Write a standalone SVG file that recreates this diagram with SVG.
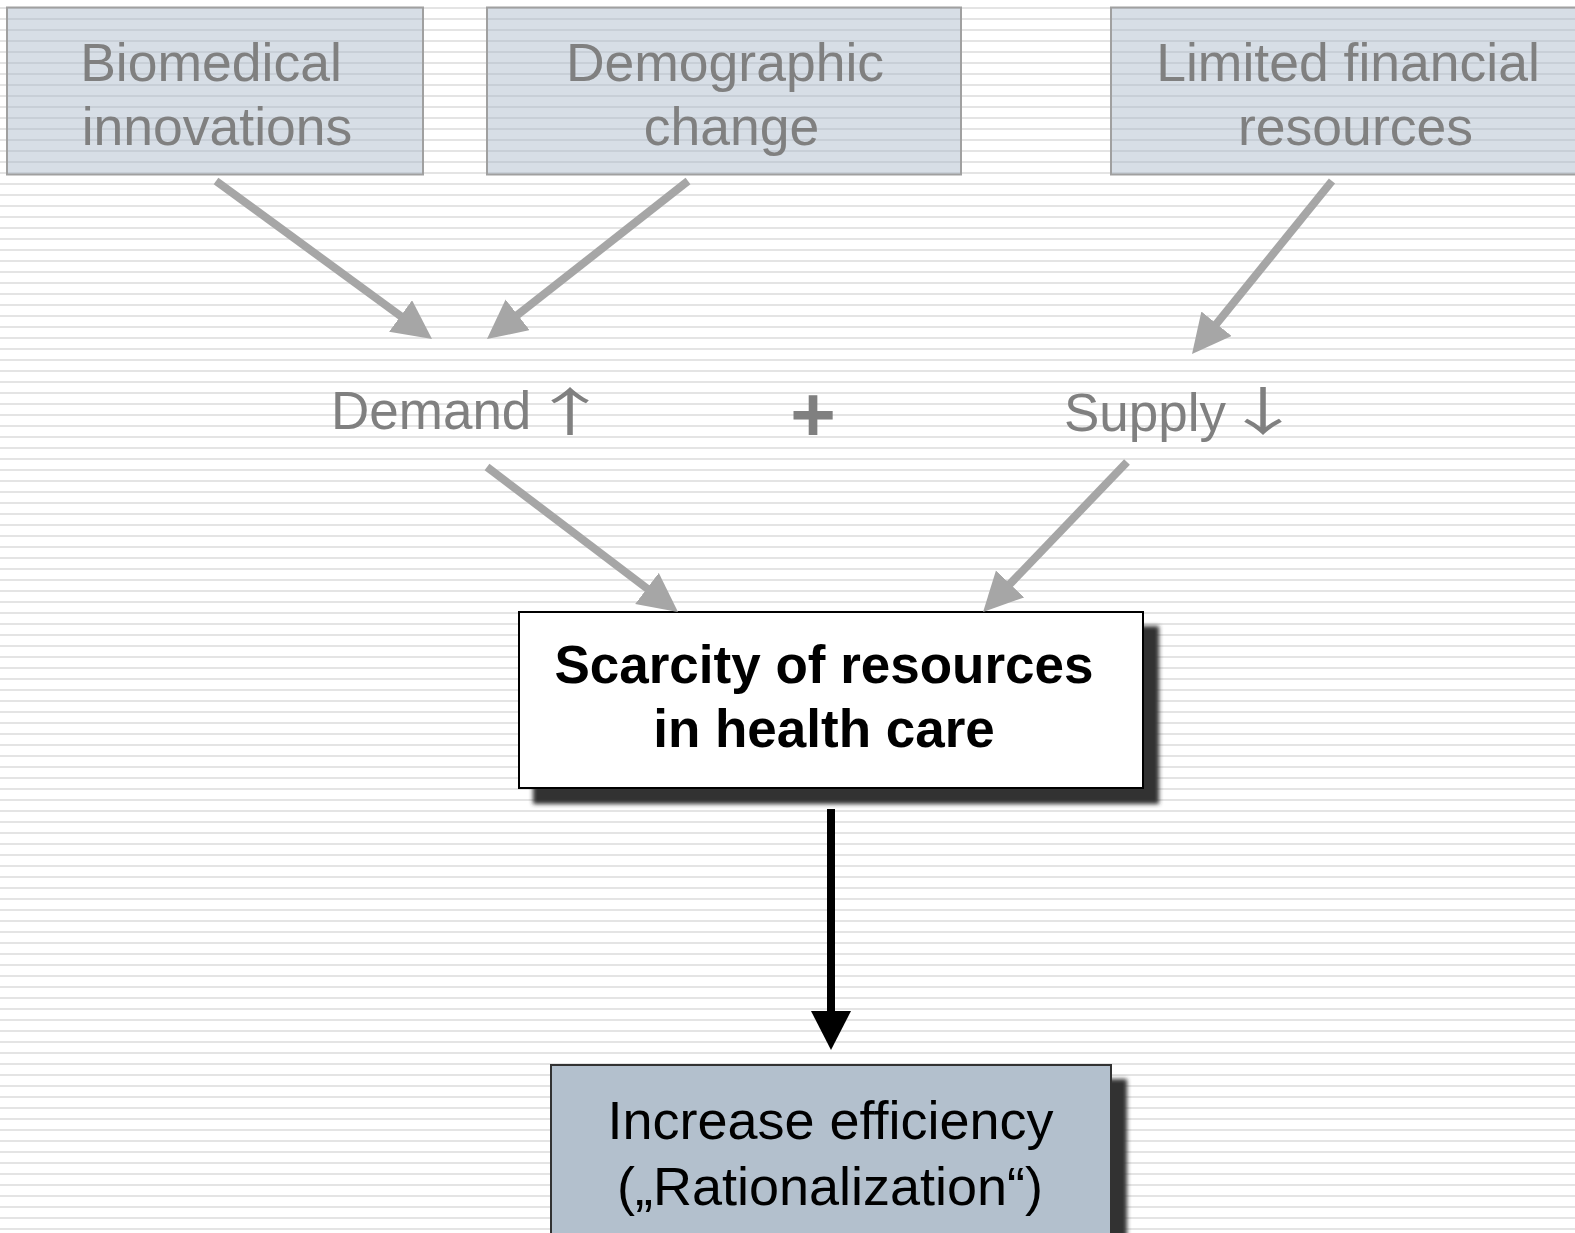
<svg xmlns="http://www.w3.org/2000/svg" width="1575" height="1233" viewBox="0 0 1575 1233">
  <defs>
    <!-- thin horizontal ruling of the slide background -->
    <pattern id="ruling" patternUnits="userSpaceOnUse" x="0" y="0" width="40" height="11">
      <rect x="0" y="7" width="40" height="2" fill="#e4e4e4"/>
    </pattern>
    <!-- soft drop shadow for the central boxes -->
    <filter id="shadow" x="-10%" y="-10%" width="130%" height="140%">
      <feGaussianBlur in="SourceAlpha" stdDeviation="2.2" result="b"/>
      <feOffset in="b" dx="15" dy="15" result="o"/>
      <feFlood flood-color="#333333"/>
      <feComposite in2="o" operator="in" result="s"/>
      <feMerge>
        <feMergeNode in="s"/>
        <feMergeNode in="SourceGraphic"/>
      </feMerge>
    </filter>
    <marker id="headGray" markerUnits="userSpaceOnUse" markerWidth="40" markerHeight="40" refX="19" refY="19.5" orient="auto">
      <path d="M0,0 L39,19.5 L0,39 Z" fill="#a6a6a6"/>
    </marker>
    <marker id="headBlack" markerUnits="userSpaceOnUse" markerWidth="40" markerHeight="41" refX="19" refY="20" orient="auto">
      <path d="M0,0 L39,20 L0,40 Z" fill="#000000"/>
    </marker>
    <style>
      .src rect { fill: #a8b8c9; fill-opacity: 0.46; stroke: #a0a0a0; stroke-width: 2; }
      .src text, .lbl { font-family: "Liberation Sans", Arial, sans-serif; font-size: 53.5px; fill: #808080; }
      .src text { text-anchor: middle; }
      .lbl { font-size: 53px; }
      .arw { font-family: "Noto Sans CJK SC", "DejaVu Sans", sans-serif; font-size: 52px; fill: #808080; text-anchor: middle; }
      .gray { stroke: #a6a6a6; stroke-width: 8; fill: none; marker-end: url(#headGray); }
      .black { stroke: #000000; stroke-width: 8; fill: none; marker-end: url(#headBlack); }
      .core text { font-family: "Liberation Sans", Arial, sans-serif; text-anchor: middle; fill: #000000; }
    </style>
  </defs>

  <rect x="0" y="0" width="1575" height="1233" fill="#ffffff"/>
  <rect x="0" y="0" width="1575" height="1233" fill="url(#ruling)"/>

  <!-- driving factors -->
  <g id="biomedical" class="src">
    <rect x="7" y="7.5" width="416" height="167"/>
    <text x="211" y="81">Biomedical</text>
    <text x="217" y="145">innovations</text>
  </g>
  <g id="demographic" class="src">
    <rect x="487" y="7.5" width="474" height="167"/>
    <text x="725" y="81">Demographic</text>
    <text x="731.5" y="145">change</text>
  </g>
  <g id="financial" class="src">
    <rect x="1111" y="7.5" width="482" height="167"/>
    <text x="1348" y="81">Limited financial</text>
    <text x="1355.5" y="145">resources</text>
  </g>

  <!-- intermediate effects; the trend arrows are widened glyphs -->
  <g id="demand">
    <text class="lbl" x="331" y="429">Demand</text>
    <text class="arw" transform="translate(570,0) scale(1.55,1)" x="0" y="431">↑</text>
  </g>
  <g id="plus">
    <text x="813" y="441" font-family="Liberation Sans, Arial, sans-serif" font-size="78" font-weight="bold" fill="#808080" text-anchor="middle">+</text>
  </g>
  <g id="supply">
    <text class="lbl" x="1064" y="431">Supply</text>
    <text class="arw" transform="translate(1263,0) scale(1.55,1)" x="0" y="431">↓</text>
  </g>

  <!-- central problem -->
  <g id="scarcity" class="core">
    <rect x="519" y="612" width="624" height="176" fill="#ffffff" stroke="#000000" stroke-width="2" filter="url(#shadow)"/>
    <text x="824" y="683" font-size="53" font-weight="bold">Scarcity of resources</text>
    <text x="824" y="747" font-size="53" font-weight="bold">in health care</text>
  </g>

  <!-- consequence -->
  <g id="efficiency" class="core">
    <rect x="551" y="1065" width="560" height="200" fill="#b3c0cd" stroke="#333333" stroke-width="2" filter="url(#shadow)"/>
    <text x="830.5" y="1139" font-size="54">Increase efficiency</text>
    <text x="830" y="1205" font-size="54">(„Rationalization“)</text>
  </g>

  <!-- connectors -->
  <g id="connectors">
    <line class="gray" x1="216" y1="181" x2="415.9" y2="327.2"/>
    <line class="gray" x1="688" y1="181" x2="502.7" y2="326.6"/>
    <line class="gray" x1="1332" y1="181" x2="1204.6" y2="338.5"/>
    <line class="gray" x1="487" y1="467" x2="662.1" y2="599.9"/>
    <line class="gray" x1="1127" y1="462" x2="996.9" y2="597.6"/>
    <line class="black" x1="831" y1="809" x2="831" y2="1030"/>
  </g>
</svg>
